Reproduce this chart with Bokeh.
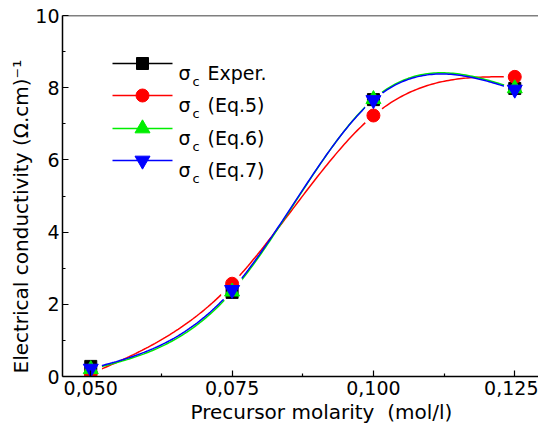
import numpy as np
from bokeh.plotting import figure
from bokeh.models import Range1d, FixedTicker, CustomJSTickFormatter, Label, Span, Title
from bokeh.embed import file_html
from bokeh.resources import INLINE

# ---- data ----
molarity = [0.050, 0.075, 0.100, 0.125]
sigma_exper = [0.28, 2.33, 7.67, 7.98]
sigma_eq5 = [0.08, 2.57, 7.23, 8.30]
sigma_eq6 = [0.20, 2.35, 7.68, 7.98]
sigma_eq7 = [0.22, 2.40, 7.66, 7.95]
x_ticks = [0.050, 0.075, 0.100, 0.125]
x_minor = [0.0625, 0.0875, 0.1125]
y_ticks = [0, 2, 4, 6, 8, 10]
y_minor = [1, 3, 5, 7, 9]
legend_labels = ["Exper.", "(Eq.5)", "(Eq.6)", "(Eq.7)"]
x_title = "Precursor molarity \u00a0(mol/l)"
y_title = "Electrical conductivity (\u03a9.cm)\u207b\u00b9"

FONT = "DejaVu Sans"
X0, X1 = 0.045, 0.1292
Y0, Y1 = 0.0, 10.0
# frame pixel edges on the canvas (used to place decorations)
FX0, FX1, FY0, FY1 = 62, 538, 15, 376


def dx(px):
    return X0 + (px - FX0) / (FX1 - FX0) * (X1 - X0)


def dy(py):
    return Y0 + (FY1 - py) / (FY1 - FY0) * (Y1 - Y0)


def spline(xs, ys, num=200):
    xs = np.asarray(xs, float)
    ys = np.asarray(ys, float)
    n = len(xs)
    h = np.diff(xs)
    A = np.zeros((n, n))
    b = np.zeros(n)
    A[0, 0] = A[-1, -1] = 1
    for i in range(1, n - 1):
        A[i, i - 1] = h[i - 1]
        A[i, i] = 2 * (h[i - 1] + h[i])
        A[i, i + 1] = h[i]
        b[i] = 6 * ((ys[i + 1] - ys[i]) / h[i] - (ys[i] - ys[i - 1]) / h[i - 1])
    M = np.linalg.solve(A, b)
    xx = np.linspace(xs[0], xs[-1], num)
    idx = np.clip(np.searchsorted(xs, xx) - 1, 0, n - 2)
    xa, xb = xs[idx], xs[idx + 1]
    hh = xb - xa
    ta, tb = xb - xx, xx - xa
    yy = (M[idx] * ta ** 3 / (6 * hh) + M[idx + 1] * tb ** 3 / (6 * hh)
          + (ys[idx] / hh - M[idx] * hh / 6) * ta
          + (ys[idx + 1] / hh - M[idx + 1] * hh / 6) * tb)
    return xx, yy


p = figure(width=538, height=428, output_backend="svg", toolbar_location=None,
           x_range=Range1d(X0, X1), y_range=Range1d(Y0, Y1),
           min_border_left=FX0, min_border_right=0, min_border_top=FY0,
           min_border_bottom=428 - FY1)
p.grid.visible = False
p.outline_line_color = None
p.background_fill_color = "white"
p.border_fill_color = "white"

for ax, ticks, minor in ((p.xaxis[0], x_ticks, x_minor), (p.yaxis[0], y_ticks, y_minor)):
    ax.ticker = FixedTicker(ticks=ticks, minor_ticks=minor)
    ax.axis_line_color = "black"
    ax.axis_line_width = 1.5
    ax.major_tick_in = 6
    ax.major_tick_out = 0
    ax.minor_tick_in = 3
    ax.minor_tick_out = 0
    ax.major_tick_line_width = 1.2
    ax.minor_tick_line_width = 1.2
    ax.major_tick_line_color = "black"
    ax.minor_tick_line_color = "black"
    ax.major_label_text_font = FONT
    ax.major_label_text_font_size = "19px"
    ax.major_label_text_color = "black"
    ax.major_label_standoff = 4

p.xaxis[0].formatter = CustomJSTickFormatter(code="return tick.toFixed(3).replace('.', ',');")
p.yaxis[0].major_label_standoff = 3

p.add_layout(Span(location=10, dimension="width", line_color="black", line_width=1.5))

# spline curves
for ys, col in ((sigma_eq5, "red"), (sigma_eq6, "#00ee00"), (sigma_eq7, "blue")):
    xx, yy = spline(molarity, ys)
    p.line(xx, yy, line_color=col, line_width=1.5)

# white gaps around the points
for ys in (sigma_exper, sigma_eq5, sigma_eq6, sigma_eq7):
    p.scatter(molarity, ys, marker="circle", size=22, fill_color="white", line_color=None)

series = [
    (sigma_exper, "square", "black", 12),
    (sigma_eq5, "circle", "red", 13),
    (sigma_eq6, "triangle", "#00ee00", 15),
    (sigma_eq7, "inverted_triangle", "blue", 15),
]
for ys, mk, col, sz in series:
    p.scatter(molarity, ys, marker=mk, size=sz, fill_color=col, line_color=col)

# legend (drawn by hand for the subscript)
row_y = [63, 95, 128, 160]
for (ys, mk, col, sz), lab, ry in zip(series, legend_labels, row_y):
    p.line([dx(112), dx(172)], [dy(ry), dy(ry)], line_color=col, line_width=1.5)
    p.scatter([dx(142)], [dy(ry)], marker=mk, size=sz, fill_color=col, line_color=col)
    p.add_layout(Label(x=dx(178), y=dy(ry + 9), text="σ", text_font=FONT,
                       text_font_size="19px", text_color="black",
                       text_baseline="alphabetic"))
    p.add_layout(Label(x=dx(192), y=dy(ry + 18), text="c", text_font=FONT,
                       text_font_size="13px", text_color="black",
                       text_baseline="alphabetic"))
    p.add_layout(Label(x=dx(207), y=dy(ry + 9), text=lab, text_font=FONT,
                       text_font_size="19px", text_color="black",
                       text_baseline="alphabetic"))

# axis titles
p.add_layout(Title(text=x_title, align="left", offset=190 - FX0, standoff=0,
                   text_font=FONT, text_font_size="20px", text_font_style="normal",
                   text_color="black"), "below")
p.add_layout(Title(text=y_title, align="left", offset=FY1 - 373, standoff=0,
                   text_font=FONT, text_font_size="20px", text_font_style="normal",
                   text_color="black"), "left")

open("out.html", "w").write(file_html(p, INLINE))
